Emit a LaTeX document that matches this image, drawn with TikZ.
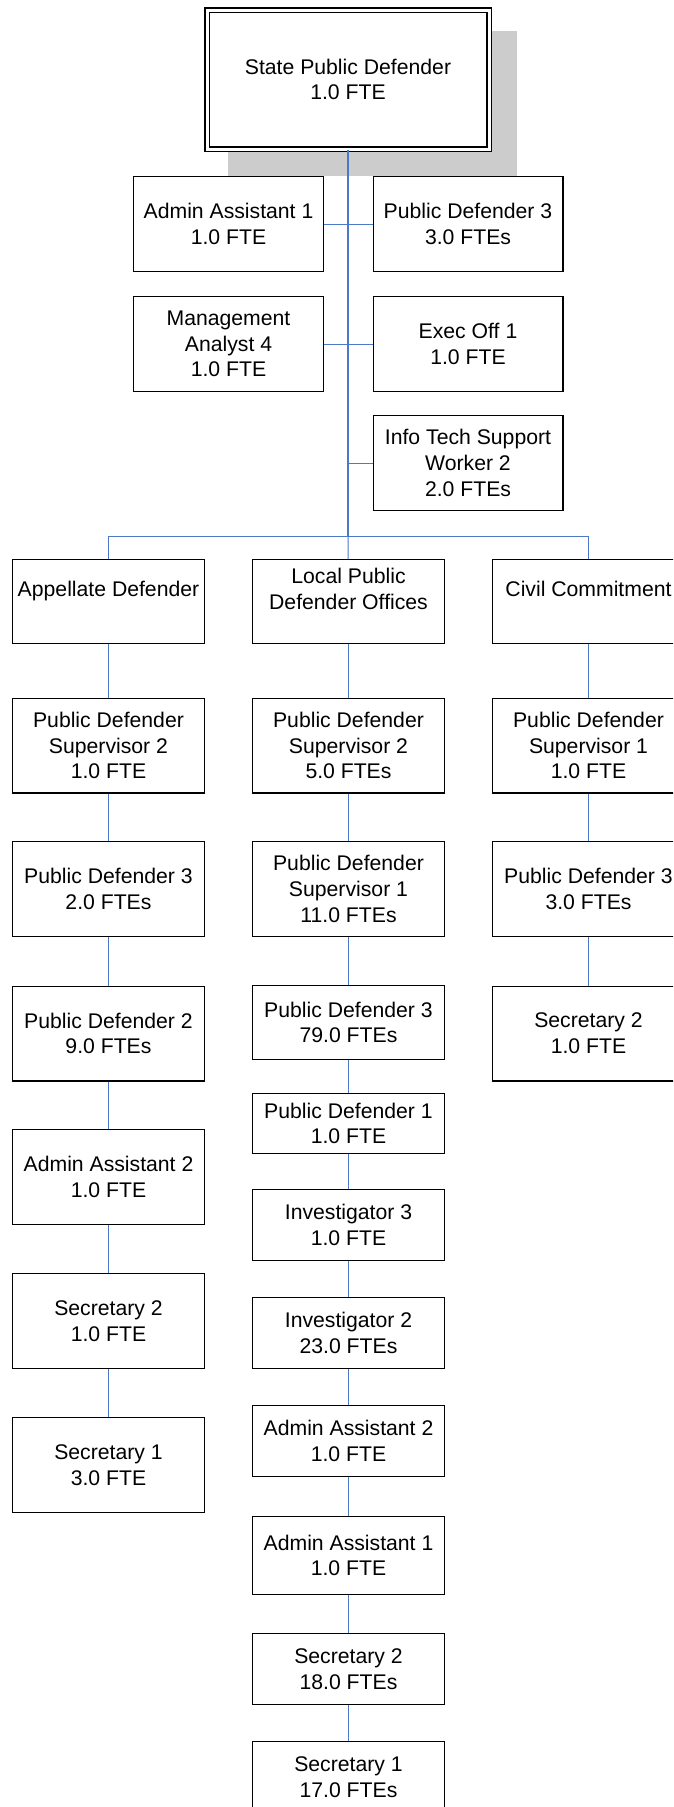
\documentclass[tikz,border=0pt]{standalone}
\usepackage{fontspec}
\setmainfont{Liberation Sans}
\definecolor{linkblue}{RGB}{74,122,196}
\definecolor{shadowgray}{RGB}{204,204,204}

\begin{document}
\begin{tikzpicture}[x=1pt,y=-1pt,
  box/.style={draw, fill=white, line width=1.3pt, align=center, inner sep=0pt,
    minimum width=191.7pt, minimum height=94.7pt,
    font=\fontsize{21.2}{25.8}\selectfont},
  staff/.style={box, minimum width=189.7pt},
  link/.style={draw=linkblue, line width=1pt},
  trunk/.style={draw=linkblue, line width=1.7pt}]
\useasboundingbox (0,0) rectangle (673,1807);
\clip (0,0) rectangle (673,1807);

\fill[shadowgray] (228,31) rectangle (517,176);
\node[box, double, line width=1.5pt, double distance=3pt,
  minimum width=282pt, minimum height=139pt] (SPD) at (348,79.5) {State Public Defender\\1.0 FTE};

\node[staff] (AA1) at (228.5,224) {Admin Assistant 1\\1.0 FTE};
\node[staff] (PD3) at (468,224) {Public Defender 3\\3.0 FTEs};
\node[staff] (MA4) at (228.5,344) {Management\\Analyst 4\\1.0 FTE};
\node[staff] (EO1) at (468,344) {Exec Off 1\\1.0 FTE};
\node[staff] (ITS) at (468,463) {Info Tech Support\\Worker 2\\2.0 FTEs};
\coordinate (BUS) at (348,536);

\node[box, minimum height=83.7pt] (APD) at (108.5,601.5) {Appellate Defender\\~};
\node[box, minimum height=83.7pt] (LPD) at (348.5,601.5) {Local Public\\Defender Offices\\~};
\node[box, minimum height=83.7pt] (CC) at (588.5,601.5) {Civil Commitment\\~};

\node[box] (A1) at (108.5,745.5) {Public Defender\\Supervisor 2\\1.0 FTE};
\node[box] (A2) at (108.5,889) {Public Defender 3\\2.0 FTEs};
\node[box] (A3) at (108.5,1033.5) {Public Defender 2\\9.0 FTEs};
\node[box] (A4) at (108.5,1177) {Admin Assistant 2\\1.0 FTE};
\node[box] (A5) at (108.5,1321) {Secretary 2\\1.0 FTE};
\node[box] (A6) at (108.5,1465) {Secretary 1\\3.0 FTE};

\node[box] (L1) at (348.5,745.5) {Public Defender\\Supervisor 2\\5.0 FTEs};
\node[box] (L2) at (348.5,889) {Public Defender\\Supervisor 1\\11.0 FTEs};
\node[box, minimum height=73.7pt] (L3) at (348.5,1022.5) {Public Defender 3\\79.0 FTEs};
\node[box, minimum height=59.7pt] (L4) at (348.5,1123.5) {Public Defender 1\\1.0 FTE};
\node[box, minimum height=70.7pt] (L5) at (348.5,1225) {Investigator 3\\1.0 FTE};
\node[box, minimum height=70.7pt] (L6) at (348.5,1333) {Investigator 2\\23.0 FTEs};
\node[box, minimum height=70.7pt] (L7) at (348.5,1441) {Admin Assistant 2\\1.0 FTE};
\node[box, minimum height=77.7pt] (L8) at (348.5,1555.5) {Admin Assistant 1\\1.0 FTE};
\node[box, minimum height=70.7pt] (L9) at (348.5,1669) {Secretary 2\\18.0 FTEs};
\node[box, minimum height=70.7pt] (L10) at (348.5,1777) {Secretary 1\\17.0 FTEs};

\node[box] (C1) at (588.5,745.5) {Public Defender\\Supervisor 1\\1.0 FTE};
\node[box] (C2) at (588.5,889) {Public Defender 3\\3.0 FTEs};
\node[box] (C3) at (588.5,1033.5) {Secretary 2\\1.0 FTE};

\draw[trunk] (SPD.south) -- (BUS);
\draw[link] (AA1) -- (PD3);
\draw[link] (MA4) -- (EO1);
\draw[link] (ITS) -- (ITS -| BUS);
\draw[link] (BUS) -| (APD);
\draw[link] (BUS) -- (LPD);
\draw[link] (BUS) -| (CC);

\draw[link] (APD) -- (A1);
\draw[link] (A1) -- (A2);
\draw[link] (A2) -- (A3);
\draw[link] (A3) -- (A4);
\draw[link] (A4) -- (A5);
\draw[link] (A5) -- (A6);

\draw[link] (LPD) -- (L1);
\draw[link] (L1) -- (L2);
\draw[link] (L2) -- (L3);
\draw[link] (L3) -- (L4);
\draw[link] (L4) -- (L5);
\draw[link] (L5) -- (L6);
\draw[link] (L6) -- (L7);
\draw[link] (L7) -- (L8);
\draw[link] (L8) -- (L9);
\draw[link] (L9) -- (L10);

\draw[link] (CC) -- (C1);
\draw[link] (C1) -- (C2);
\draw[link] (C2) -- (C3);
\end{tikzpicture}
\end{document}
